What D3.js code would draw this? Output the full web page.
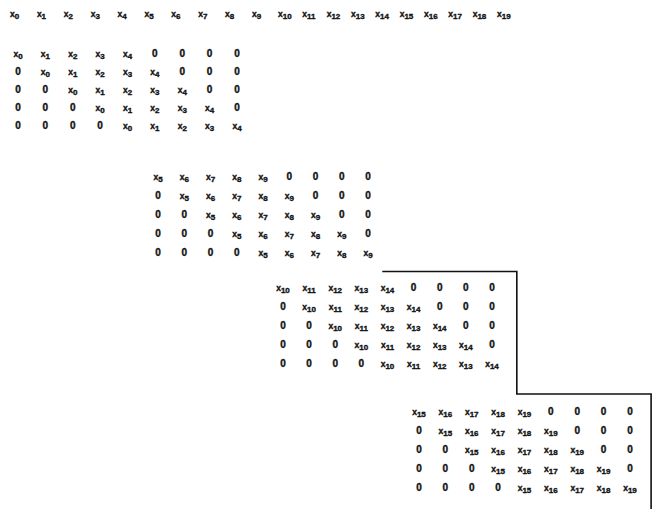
<!DOCTYPE html>
<html><head><meta charset="utf-8">
<script src="https://cdn.jsdelivr.net/npm/d3@7/dist/d3.min.js"></script>
<style>
html,body{margin:0;padding:0;background:#fff;}
svg{display:block;}
text{font-family:"Liberation Sans","DejaVu Sans",Arial,sans-serif;font-weight:bold;fill:#111;stroke:#111;stroke-width:0.35;}
</style></head>
<body><svg id="c" width="653" height="509"></svg>
<script>
// Header row: subscripts of x
const headerIdx = [0,1,2,3,4,5,6,7,8,9,10,11,12,13,14,15,16,17,18,19];

// Four banded Toeplitz blocks, each 5 rows x 9 columns ("z" = zero entry, number = x subscript)
const block1 = [
  "0 1 2 3 4 z z z z",
  "z 0 1 2 3 4 z z z",
  "z z 0 1 2 3 4 z z",
  "z z z 0 1 2 3 4 z",
  "z z z z 0 1 2 3 4"
];
const block2 = [
  "5 6 7 8 9 z z z z",
  "z 5 6 7 8 9 z z z",
  "z z 5 6 7 8 9 z z",
  "z z z 5 6 7 8 9 z",
  "z z z z 5 6 7 8 9"
];
const block3 = [
  "10 11 12 13 14 z z z z",
  "z 10 11 12 13 14 z z z",
  "z z 10 11 12 13 14 z z",
  "z z z 10 11 12 13 14 z",
  "z z z z 10 11 12 13 14"
];
const block4 = [
  "15 16 17 18 19 z z z z",
  "z 15 16 17 18 19 z z z",
  "z z 15 16 17 18 19 z z",
  "z z z 15 16 17 18 19 z",
  "z z z z 15 16 17 18 19"
];
const blocks = [block1, block2, block3, block4];

const svg = d3.select("#c");

// header scale (piecewise: single-digit labels are spaced wider)
const xHead = d3.scaleLinear().domain([0,9,10,19]).range([10,252,278,497]);
const yHead = 17;

// block layout scales
const colRanges = [[18,237],[158,368],[283,492],[419,630]];
const rowRanges = [[54,126],[177,253],[288,364],[412,488]];
const colIdx = d3.range(9), rowIdx = d3.range(5);
const xScales = colRanges.map(r => d3.scalePoint().domain(colIdx).range(r));
const yScales = rowRanges.map(r => d3.scalePoint().domain(rowIdx).range(r));

function xLabel(sel, sub) {
  sel.append("tspan").attr("font-size", 8.5).text("x");
  sel.append("tspan").attr("font-size", 8).attr("dy", 2).text(sub);
}

// header
svg.append("g").selectAll("text").data(headerIdx).join("text")
  .attr("x", d => xHead(d)).attr("y", yHead)
  .each(function(d){ xLabel(d3.select(this), d); });

// blocks
blocks.forEach((rows, b) => {
  const g = svg.append("g");
  rows.forEach((row, r) => {
    const cells = row.split(" ");
    g.selectAll(null).data(cells).join("text")
      .attr("x", (d, c) => xScales[b](c))
      .attr("y", yScales[b](r) + 3)
      .attr("text-anchor", "middle")
      .each(function(d){
        const t = d3.select(this);
        if (d === "z") { t.attr("font-size", 10).text("0"); }
        else { xLabel(t, d); }
      });
  });
});

// partition lines (derived from block scales)
const step3 = xScales[2].step(), step4 = xScales[3].step();
const yLine1 = (yScales[1](4) + yScales[2](0)) / 2 + 1;
const xL1a = xScales[2](3) + step3 * 0.8;
const xL1b = xScales[2](8) + step3 * 0.95;
const yLine2 = (yScales[2](4) + yScales[3](0)) / 2 + 6;
const xRight = xScales[3](8) + step4 * 0.8;
const path = d3.path();
path.moveTo(xL1a, yLine1);
path.lineTo(xL1b, yLine1);
path.lineTo(xL1b, yLine2);
path.lineTo(xRight, yLine2);
path.lineTo(xRight, 509);
svg.append("path").attr("d", path.toString())
  .attr("fill", "none").attr("stroke", "#111").attr("stroke-width", 1.6);
</script></body></html>
